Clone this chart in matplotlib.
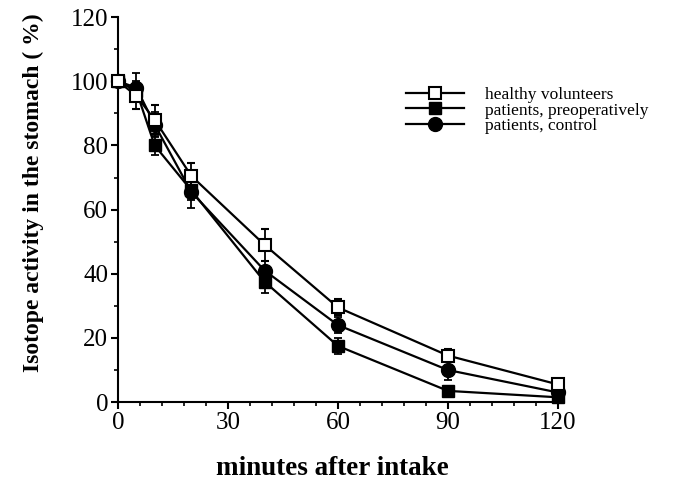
import numpy as np
import matplotlib
matplotlib.use("Agg")
import matplotlib.pyplot as plt
from matplotlib.lines import Line2D
from matplotlib.ticker import MultipleLocator

# Data
minutes = [0, 5, 10, 20, 40, 60, 90, 120]
healthy = [100, 95.5, 88, 70.5, 49, 29.5, 14.5, 5.5]
healthy_err = [0, 4, 4.5, 4, 5, 2.5, 2, 1]
preop = [100, 97, 80, 66, 37.5, 17.5, 3.5, 1.5]
preop_err = [0, 3, 3, 3, 3.5, 2.5, 1, 0.5]
control = [100, 98, 86.5, 65.5, 41, 24, 10, 3]
control_err = [0, 4.5, 4, 5, 3, 2.5, 3, 1]
labels = ["healthy volunteers", "patients, preoperatively", "patients, control"]

plt.rcParams['font.family'] = ['Liberation Serif', 'DejaVu Serif']

fig = plt.figure(figsize=(6.8, 4.88), dpi=100)
ax = fig.add_axes([0.1735, 0.176, 0.647, 0.789])

common = dict(color='black', lw=1.6, capsize=3, elinewidth=1.3, capthick=1.3, clip_on=False)
styles = [dict(marker='s', ms=8, mfc='white', mec='black', mew=1.5),
          dict(marker='s', ms=8, mfc='black', mec='black'),
          dict(marker='o', ms=10, mfc='black', mec='black')]
series = [(healthy, healthy_err), (preop, preop_err), (control, control_err)]
zs = [4, 3, 3]
for (vals, err), st, z in zip(series, styles, zs):
    cont = ax.errorbar(minutes, vals, yerr=err, zorder=z, **common, **st)
    for art in cont.lines[1] + cont.lines[2]:
        art.set_clip_on(False)

ax.set_xlim(0, 120)
ax.set_ylim(0, 120)
ax.xaxis.set_major_locator(MultipleLocator(30))
ax.xaxis.set_minor_locator(MultipleLocator(6))
ax.yaxis.set_major_locator(MultipleLocator(20))
ax.yaxis.set_minor_locator(MultipleLocator(10))
for s in ['top', 'right']:
    ax.spines[s].set_visible(False)
for s in ['left', 'bottom']:
    ax.spines[s].set_linewidth(1.5)
ax.tick_params(which='major', direction='out', length=5, width=1.5, labelsize=18, pad=2)
ax.tick_params(which='minor', direction='out', length=3, width=1.2)

ax.set_xlabel("minutes after intake", fontsize=19.5, fontweight='bold')
ax.set_ylabel("Isotope activity in the stomach ( %)", fontsize=17, fontweight='bold')
ax.xaxis.set_label_coords(0.487, -0.140)
ax.yaxis.set_label_coords(-0.168, 0.543)

handles = [Line2D([], [], color='black', lw=1.6, **st) for st in styles]
ax.legend(handles, labels, loc='upper left', bbox_to_anchor=(0.62, 0.86), frameon=False,
          fontsize=12.5, handlelength=3.3, labelspacing=-0.02, handletextpad=1.25)

fig.savefig("out.png", dpi=100)
